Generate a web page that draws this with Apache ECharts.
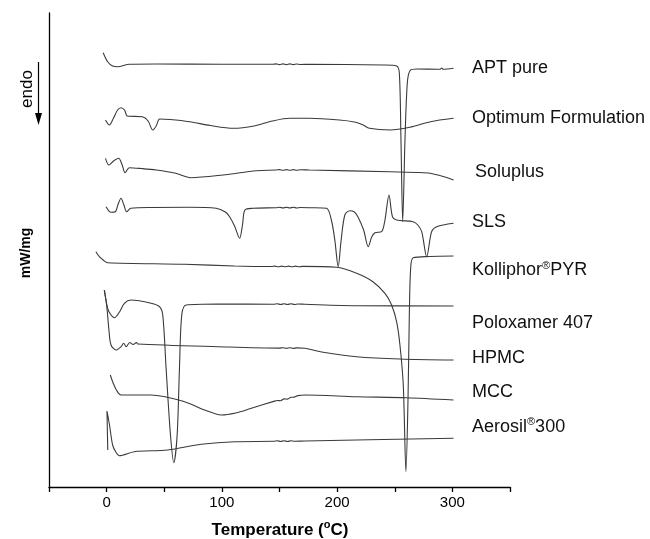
<!DOCTYPE html>
<html>
<head>
<meta charset="utf-8">
<script src="https://cdn.jsdelivr.net/npm/echarts@6/dist/echarts.min.js"></script>
<style>html,body{margin:0;padding:0;background:#fff}#c{width:650px;height:539px}</style>
</head>
<body>
<div id="c"></div>
<script>
// Temperature (°C) vs. heat flow (arbitrary stacked offset, up = exo)
const xTicks = [0, 100, 200, 300];
const seriesNames = ['APT pure','Optimum Formulation','Soluplus','SLS','Kolliphor®PYR','Poloxamer 407','HPMC','MCC','Aerosil®300'];

const aptPure = [[-3,434.3],[0.9,425.3],[5.2,421],[9.6,420.3],[19.7,422.7],[43,423],[100,422.8],[144,422.7],[147,423.1],[150,422.4],[153,423.1],[156,422.4],[159,423.1],[162,422.4],[165,423],[168,422.5],[176,422.7],[240,422],[251.6,421],[254,413.7],[255.4,347],[256.9,265.3],[258.9,348],[260.9,404],[263.2,416.3],[269,418],[289,417.7],[290.8,419],[292,417.7],[301,418.7]];

const optimum = [[-1,367],[2.4,362],[6,369],[9.5,377],[12.5,379.3],[15.5,377],[18,371],[31,370.3],[36,366],[40,357],[43,361],[46,368],[55,367.5],[72,365.3],[90,361.5],[110,358.7],[128,361],[144,366],[159,368.7],[176,368.7],[202,367],[215,365],[222.6,362],[228,358.7],[246,357],[263,359.7],[281,365.3],[301,368.7]];

const soluplus = [[-1,328.7],[2,322],[6,326],[10.4,328.7],[13.5,322],[16,314.3],[19.7,319.3],[30,318.5],[43,317],[60,313.7],[73,309.3],[101,312],[130,316.3],[147,317],[150,317.4],[153,316.7],[156,317.4],[159,316.7],[162,317.4],[165,316.7],[168,317.3],[176,317],[246,315.3],[270,314.5],[280.6,313.7],[292,310.5],[301,307]];

const sls = [[-0.5,280.3],[3.8,274.7],[7.6,275.3],[10,283],[12.5,288.7],[15,282],[17.4,275.3],[21,278.7],[40,279.5],[72,279.7],[95,278.7],[103,275],[106.7,270.3],[111,261],[115.4,248.7],[118,263],[120,277],[127,278.7],[147,279.3],[150,279.7],[153,279],[156,279.7],[159,279],[162,279.7],[165,279],[168,279.5],[176,279.3],[190.8,278.7],[195,267],[198,247],[200.9,220.3],[203.5,247],[206.7,272],[211,276.3],[215,275],[218,270.3],[223,257],[227,240.3],[230,250],[232.8,254.3],[238.6,255.3],[241.5,267],[245,292],[248,270.3],[251.6,267],[266,265.3],[270,262],[273.4,255.3],[277.7,230.3],[282,255.3],[286.4,260.3],[301,263.7]];

const kolliphor = [[-9.3,235.3],[-6.3,230.3],[-2,226],[0.9,224.3],[67.6,222.7],[111,221],[143,220.5],[146,220.9],[149,220.2],[152,220.9],[155,220.2],[158,220.9],[161,220.2],[164,220.9],[167,220.2],[170,220.6],[199.5,219.7],[216.9,213.7],[231,205.3],[241.5,193.7],[247.3,182],[251.6,165.3],[254.5,142],[257.4,102],[259.7,15.3],[261.5,87],[262.6,168.7],[263.8,218.7],[266,229.3],[280,230.5],[301,231]];

const poloxamer = [[-2,197],[0.9,178.7],[3.5,172.5],[6.7,169.3],[11,174.7],[15.4,183.7],[21.2,187],[38.6,183.7],[45.8,180.3],[48.7,172],[51.6,118.7],[55.4,52],[58.3,24.3],[61.2,52],[63.2,118.7],[65.2,172],[69,182],[96.5,183],[145,182.8],[148,183.2],[151,182.5],[154,183.2],[157,182.5],[160,183.2],[163,182.5],[166,183],[172,182.7],[217,181.3],[301,181]];

const hpmc = [[-2,197],[0,182],[2,157],[3.8,142],[8.2,137],[12.5,140.3],[14.8,143.7],[17,140.3],[20,144.5],[23,142.5],[26,144.5],[27,143],[96.5,140.3],[150,138.9],[153,139.3],[156,138.6],[159,139.3],[162,138.6],[165,139.1],[172,138.7],[188,134.7],[217,130.3],[254.5,128],[301,127]];

const mcc = [[3.2,112],[5.2,105.3],[8.5,97],[12.5,92],[38.6,92],[67.6,85.3],[85,77],[99.5,72],[112,74],[125.6,78.7],[145,85.6],[148,86.5],[151,86.3],[154,88.1],[157,87.9],[160,89.7],[163,89.9],[166,91.4],[172,92],[217,90.3],[260,89.3],[301,87]];

const aerosil = [[1,37],[0.3,76],[2.5,62],[5.2,42],[8,35],[11,31.3],[24,35.3],[53,37],[82,42.7],[111,45.3],[145,45.7],[148,46.2],[151,45.5],[154,46.2],[157,45.5],[160,46.2],[163,45.7],[172,46],[301,48.7]];

const allData = [aptPure, optimum, soluplus, sls, kolliphor, poloxamer, hpmc, mcc, aerosil];

const chart = echarts.init(document.getElementById('c'), null, {renderer: 'canvas'});
const FONT = 'Liberation Sans, Arial, sans-serif';
const lineColor = '#3a3a3a';

const labelY = [68.3, 118.3, 171.7, 221.7, 270, 323.3, 358.3, 391.7, 426.7];
const labelX = [472, 472, 475, 472, 472, 472, 472, 472, 472];
function richName(n) {
  if (n.indexOf('®') >= 0) {
    const p = n.split('®');
    return '{a|' + p[0] + '}{s|®}{a|' + p[1] + '}';
  }
  return '{a|' + n + '}';
}
const labelGraphics = seriesNames.map((n, i) => ({
  type: 'text', x: labelX[i], y: labelY[i],
  style: {
    text: richName(n), fill: '#111', verticalAlign: 'middle', align: 'left',
    rich: {
      a: {fontSize: 18, fontFamily: FONT, fill: '#111', lineHeight: 20},
      s: {fontSize: 11, fontFamily: FONT, fill: '#111', verticalAlign: 'top', lineHeight: 20}
    }
  }
}));

chart.setOption({
  animation: false,
  backgroundColor: '#fff',
  grid: {left: 49, right: 140, top: 13, bottom: 52},
  xAxis: {
    type: 'value', min: -50, max: 350, interval: 50,
    axisLine: {show: true, onZero: false, lineStyle: {color: '#000', width: 1.3}},
    axisTick: {show: true, inside: false, length: 5, lineStyle: {color: '#000', width: 1.3}},
    axisLabel: {
      color: '#000', fontSize: 15, fontFamily: FONT, margin: 8,
      formatter: v => (xTicks.indexOf(v) >= 0 ? String(v) : '')
    },
    splitLine: {show: false}
  },
  yAxis: {
    type: 'value', min: 0, max: 474,
    axisLine: {show: true, onZero: false, lineStyle: {color: '#000', width: 1.3}},
    axisTick: {show: false}, axisLabel: {show: false}, splitLine: {show: false}
  },
  series: allData.map((d, i) => ({
    name: seriesNames[i], type: 'line', data: d, showSymbol: false, smooth: 0.3,
    lineStyle: {color: lineColor, width: 1.1}, z: 2
  })),
  graphic: [
    ...labelGraphics,
    {
      type: 'text', x: 280, y: 530,
      style: {
        text: '{a|Temperature (}{s|o}{a|C)}', align: 'center', verticalAlign: 'middle',
        rich: {
          a: {fontSize: 17, fontWeight: 'bold', fontFamily: FONT, fill: '#000', lineHeight: 22},
          s: {fontSize: 11, fontWeight: 'bold', fontFamily: FONT, fill: '#000', verticalAlign: 'top', lineHeight: 14}
        }
      }
    },
    {
      type: 'text', x: 26, y: 253, rotation: Math.PI / 2,
      style: {text: 'mW/mg', fontSize: 14, fontWeight: 'bold', fontFamily: FONT, fill: '#000', align: 'center', verticalAlign: 'middle'}
    },
    {
      type: 'text', x: 27.5, y: 89, rotation: Math.PI / 2,
      style: {text: 'endo', fontSize: 17, fontFamily: FONT, fill: '#000', align: 'center', verticalAlign: 'middle'}
    },
    {type: 'line', shape: {x1: 38.5, y1: 62, x2: 38.5, y2: 114}, style: {stroke: '#000', lineWidth: 1.2}},
    {type: 'polygon', shape: {points: [[35, 113], [42, 113], [38.5, 125]]}, style: {fill: '#000'}}
  ]
});
</script>
</body>
</html>
